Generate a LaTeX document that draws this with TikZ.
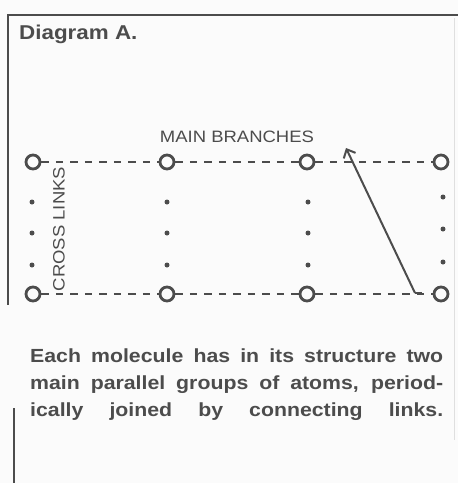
\documentclass[tikz,border=0pt]{standalone}
\usepackage{fontspec}
\setmainfont[FakeStretch=1.12]{Liberation Sans}
\usetikzlibrary{arrows.meta}
\definecolor{ink}{HTML}{4C4C4C}
\definecolor{paper}{HTML}{FBFBFB}
\tikzset{
  atom/.style={circle, draw=ink, line width=2.8pt, minimum size=14pt, inner sep=0pt},
  dotnode/.style={circle, fill=ink, minimum size=5pt, inner sep=0pt},
  branch/.style={draw=ink, line width=2.6pt, dash pattern=on 7.5pt off 7pt},
  frame/.style={draw=ink, line width=1.6pt},
  lbl/.style={text=ink, inner sep=0pt, font=\fontsize{16.5}{18}\selectfont},
  para/.style={text=ink, inner sep=0pt, anchor=base west, font=\fontsize{19}{20}\selectfont\bfseries},
}
\begin{document}
\begin{tikzpicture}[x=1pt,y=-1pt]
\useasboundingbox (0,0) rectangle (458,483);
\fill[paper] (0,0) rectangle (458,483);
% frame
\draw[frame] (8,15) -- (458,15);
\draw[frame] (8,14.2) -- (8,305);
\draw[frame] (14,408) -- (14,483);
\draw[gray!25, line width=1pt] (454,18) -- (454,440);
% title
\node[text=ink, inner sep=0pt, anchor=base west, font=\fontsize{20}{22}\selectfont\bfseries] (title) at (19,39) {Diagram A.};
% atoms
\node[atom] (t1) at (33,162) {};
\node[atom] (t2) at (167,162) {};
\node[atom] (t3) at (307,162) {};
\node[atom] (t4) at (441,162) {};
\node[atom] (b1) at (33,294) {};
\node[atom] (b2) at (167,294) {};
\node[atom] (b3) at (307,294) {};
\node[atom] (b4) at (441,294) {};
% main branches
\draw[branch] (t1) -- (t2);
\draw[branch] (t2) -- (t3);
\draw[branch] (t3) -- (t4);
\draw[branch] (b1) -- (b2);
\draw[branch] (b2) -- (b3);
\draw[branch] (b3) -- (b4);
% cross links (dots)
\foreach \x/\n in {32/a,167/b,308/c}{
  \node[dotnode] (\n1) at (\x,202) {};
  \node[dotnode] (\n2) at (\x,233) {};
  \node[dotnode] (\n3) at (\x,265) {};
}
\node[dotnode] (d1) at (443,197) {};
\node[dotnode] (d2) at (443,229) {};
\node[dotnode] (d3) at (443,262) {};
% labels
\node[lbl] (mb) at (237,137) {MAIN BRANCHES};
\node[lbl, rotate=90] (cl) at (59,229) {CROSS LINKS};
% arrow
\coordinate (ae) at (415,293);
\coordinate (ah) at (422,293);
\coordinate (at) at (346,148);
\draw[ink, line width=2pt] (ah) -- (ae);
\draw[ink, line width=2pt, -{Straight Barb[length=7pt,width=13pt]}] (ae) -- (at);
% caption
\node[para] (p1) at (30,362) {\makebox[413pt][s]{Each molecule has in its structure two}};
\node[para] (p2) at (30,389) {\makebox[413pt][s]{main parallel groups of atoms, period-}};
\node[para] (p3) at (30,416) {\makebox[413pt][s]{ically joined by connecting links.}};
\end{tikzpicture}
\end{document}
